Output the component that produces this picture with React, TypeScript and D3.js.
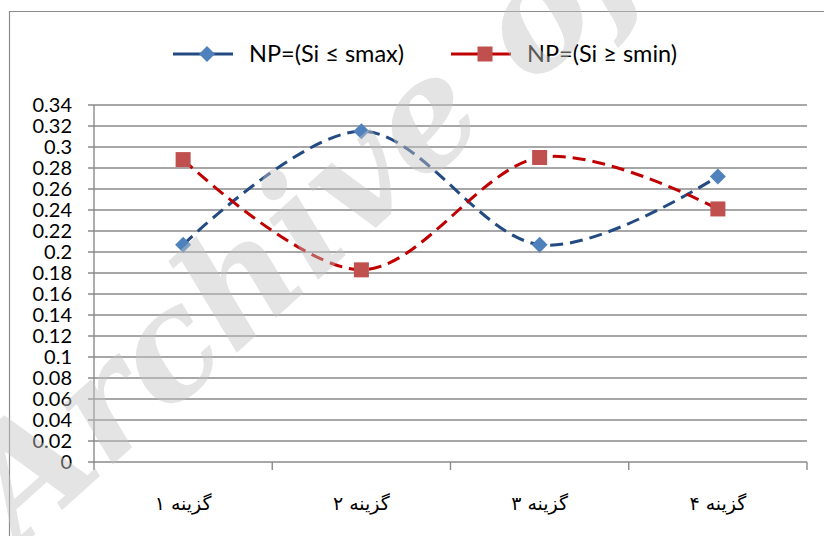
import { useEffect, useRef } from "react";
import * as d3 from "d3";

const categories = ["گزینه ۱", "گزینه ۲", "گزینه ۳", "گزینه ۴"];
const seriesMax = [0.207, 0.315, 0.207, 0.272];
const seriesMin = [0.288, 0.183, 0.29, 0.241];
const yTicks = d3.range(0, 18).map(i => +(i * 0.02).toFixed(2));
const legendLabels = ["NP=(Si ≤ smax)", "NP=(Si ≥ smin)"];

export default function App() {
  const svgRef = useRef<SVGSVGElement>(null);

  useEffect(() => {
    if (!svgRef.current) return;
    const svg = d3.select(svgRef.current);
    svg.selectAll("*").remove();

    const W = 824, H = 536;
    const left = 94, right = 807, top = 105, bottom = 462;
    const grid = "#8a8a8a";
    const font = "Lato, 'Open Sans', sans-serif";

    // outer frame (only left/top edges visible)
    svg.append("path")
      .attr("d", `M9.5,${H} V11.5 H${W}`)
      .attr("fill", "none").attr("stroke", "#8c8c8c").attr("stroke-width", 1.2);

    const x = d3.scaleBand<string>().domain(categories).range([left, right]);
    const y = d3.scaleLinear().domain([0, 0.34]).range([bottom, top]);

    // horizontal gridlines + tick marks
    svg.append("g").selectAll("line").data(yTicks).enter().append("line")
      .attr("x1", left - 6).attr("x2", right)
      .attr("y1", d => y(d)).attr("y2", d => y(d))
      .attr("stroke", grid).attr("stroke-width", 1.4);

    // y axis labels
    svg.append("g").selectAll("text").data(yTicks).enter().append("text")
      .attr("x", 72).attr("y", d => y(d)).attr("dy", "0.36em")
      .attr("text-anchor", "end")
      .attr("font-family", font).attr("font-size", 20).attr("fill", "#000")
      .text(d => String(d));

    // vertical axis line
    svg.append("line")
      .attr("x1", left).attr("x2", left).attr("y1", top).attr("y2", bottom + 8)
      .attr("stroke", grid).attr("stroke-width", 1.4);

    // category tick marks
    const bounds = categories.map(c => (x(c) as number) + x.bandwidth());
    svg.append("g").selectAll("line").data(bounds).enter().append("line")
      .attr("x1", d => d).attr("x2", d => d).attr("y1", bottom).attr("y2", bottom + 8)
      .attr("stroke", grid).attr("stroke-width", 1.4);

    // category labels
    svg.append("g").selectAll("text").data(categories).enter().append("text")
      .attr("x", d => (x(d) as number) + x.bandwidth() / 2).attr("y", 503)
      .attr("dy", "0.35em").attr("text-anchor", "middle").attr("direction", "rtl")
      .attr("font-family", "'DejaVu Sans', sans-serif").attr("font-size", 19).attr("fill", "#000")
      .text(d => d);

    const cx = (i: number) => (x(categories[i]) as number) + x.bandwidth() / 2;
    const line = d3.line<number>()
      .x((_, i) => cx(i)).y(d => y(d))
      .curve(d3.curveCardinal.tension(0));

    const series = [
      { data: seriesMax, stroke: "#234b82", fill: "#4f81bd", marker: "diamond" },
      { data: seriesMin, stroke: "#c00000", fill: "#c0504d", marker: "square" },
    ];

    const drawMarker = (g: any, kind: string, px: number, py: number, fill: string) => {
      if (kind === "diamond") {
        g.append("path")
          .attr("d", `M${px},${py - 8} L${px + 8},${py} L${px},${py + 8} L${px - 8},${py} Z`)
          .attr("fill", fill);
      } else {
        g.append("rect")
          .attr("x", px - 7.5).attr("y", py - 7.5).attr("width", 15).attr("height", 15)
          .attr("fill", fill);
      }
    };

    series.forEach(s => {
      svg.append("path").datum(s.data)
        .attr("fill", "none").attr("stroke", s.stroke).attr("stroke-width", 3)
        .attr("stroke-dasharray", "13,7")
        .attr("d", line);
      const g = svg.append("g");
      s.data.forEach((v, i) => drawMarker(g, s.marker, cx(i), y(v), s.fill));
    });

    // legend
    const legendX = [173, 451];
    const ly = 54;
    series.forEach((s, i) => {
      const lx = legendX[i];
      svg.append("line")
        .attr("x1", lx).attr("x2", lx + 60).attr("y1", ly).attr("y2", ly)
        .attr("stroke", s.stroke).attr("stroke-width", 3);
      const g = svg.append("g");
      drawMarker(g, s.marker, lx + 34, ly, s.fill);
      svg.append("text")
        .attr("x", lx + 76).attr("y", ly).attr("dy", "0.36em")
        .attr("font-family", font).attr("font-size", 23.5).attr("fill", "#000")
        .text(legendLabels[i]);
    });

    // watermark
    svg.append("text")
      .attr("transform", "translate(20,548) rotate(-42)")
      .attr("font-family", "'DejaVu Serif', 'Liberation Serif', serif")
      .attr("font-style", "italic").attr("font-weight", "bold")
      .attr("font-size", 150).attr("fill", "#c4c4c4").attr("fill-opacity", 0.45)
      .text("Archive of");
  }, []);

  return (
    <svg ref={svgRef} width={824} height={536}
      style={{ position: "absolute", left: 0, top: 0, background: "#fff" }} />
  );
}
